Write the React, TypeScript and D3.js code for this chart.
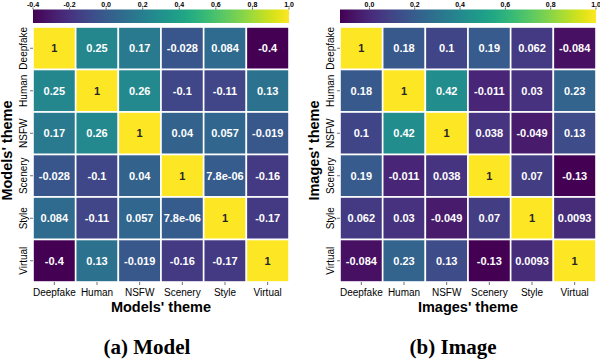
import React from "react";
import * as d3 from "d3";

const categories = ["Deepfake", "Human", "NSFW", "Scenery", "Style", "Virtual"];

const modelValues: number[][] = [
  [1, 0.25, 0.17, -0.028, 0.084, -0.4],
  [0.25, 1, 0.26, -0.1, -0.11, 0.13],
  [0.17, 0.26, 1, 0.04, 0.057, -0.019],
  [-0.028, -0.1, 0.04, 1, 7.8e-6, -0.16],
  [0.084, -0.11, 0.057, 7.8e-6, 1, -0.17],
  [-0.4, 0.13, -0.019, -0.16, -0.17, 1],
];
const modelLabels: string[][] = [
  ["1", "0.25", "0.17", "-0.028", "0.084", "-0.4"],
  ["0.25", "1", "0.26", "-0.1", "-0.11", "0.13"],
  ["0.17", "0.26", "1", "0.04", "0.057", "-0.019"],
  ["-0.028", "-0.1", "0.04", "1", "7.8e-06", "-0.16"],
  ["0.084", "-0.11", "0.057", "7.8e-06", "1", "-0.17"],
  ["-0.4", "0.13", "-0.019", "-0.16", "-0.17", "1"],
];
const modelTicks = [-0.4, -0.2, 0.0, 0.2, 0.4, 0.6, 0.8, 1.0];

const imageValues: number[][] = [
  [1, 0.18, 0.1, 0.19, 0.062, -0.084],
  [0.18, 1, 0.42, -0.011, 0.03, 0.23],
  [0.1, 0.42, 1, 0.038, -0.049, 0.13],
  [0.19, -0.011, 0.038, 1, 0.07, -0.13],
  [0.062, 0.03, -0.049, 0.07, 1, 0.0093],
  [-0.084, 0.23, 0.13, -0.13, 0.0093, 1],
];
const imageLabels: string[][] = [
  ["1", "0.18", "0.1", "0.19", "0.062", "-0.084"],
  ["0.18", "1", "0.42", "-0.011", "0.03", "0.23"],
  ["0.1", "0.42", "1", "0.038", "-0.049", "0.13"],
  ["0.19", "-0.011", "0.038", "1", "0.07", "-0.13"],
  ["0.062", "0.03", "-0.049", "0.07", "1", "0.0093"],
  ["-0.084", "0.23", "0.13", "-0.13", "0.0093", "1"],
];
const imageTicks = [0.0, 0.2, 0.4, 0.6, 0.8, 1.0];

const SANS = "'Liberation Sans', Arial, sans-serif";
const SERIF = "'Liberation Serif', 'DejaVu Serif', serif";

function luminance(c: string) {
  const rgb = d3.rgb(c);
  const f = (v: number) => {
    const s = v / 255;
    return s <= 0.03928 ? s / 12.92 : Math.pow((s + 0.055) / 1.055, 2.4);
  };
  return 0.2126 * f(rgb.r) + 0.7152 * f(rgb.g) + 0.0722 * f(rgb.b);
}

function fmtTick(v: number) {
  return v.toFixed(1);
}

type PanelProps = {
  id: string;
  x0: number;
  values: number[][];
  labels: string[][];
  ticks: number[];
  axisLabel: string;
  caption: string;
  captionX: number;
};

function Panel({ id, x0, values, labels, ticks, axisLabel, caption, captionX }: PanelProps) {
  const width = 256;
  const top = 27;
  const height = 255;
  const flat = values.flat();
  const vmin = d3.min(flat) as number;
  const vmax = d3.max(flat) as number;
  const color = d3.scaleSequential(d3.interpolateViridis).domain([vmin, vmax]);
  const xb = d3.scaleBand().domain(categories).range([x0, x0 + width]);
  const yb = d3.scaleBand().domain(categories).range([top, top + height]);
  const cbScale = d3.scaleLinear().domain([vmin, vmax]).range([x0, x0 + width]);
  const stops = d3.range(0, 1.0001, 0.05);
  const cbTop = 9.5;
  const cbH = 13.5;
  const cx = x0 + width / 2;
  const cy = top + height / 2;
  return (
    <g>
      <defs>
        <linearGradient id={id} x1="0" x2="1" y1="0" y2="0">
          {stops.map((t, i) => (
            <stop key={i} offset={t} stopColor={d3.interpolateViridis(t)} />
          ))}
        </linearGradient>
      </defs>
      <rect x={x0} y={cbTop} width={width} height={cbH} fill={`url(#${id})`} />
      {ticks.map((t) => (
        <g key={t}>
          <line x1={cbScale(t)} x2={cbScale(t)} y1={cbTop} y2={cbTop - 2} stroke="#000" strokeWidth={0.6} />
          <text x={cbScale(t)} y={6.5} fontSize={7} fontFamily={SANS} fontWeight="bold" textAnchor="middle">
            {fmtTick(t)}
          </text>
        </g>
      ))}
      {values.map((row, i) =>
        row.map((v, j) => {
          const fill = color(v);
          const txt = luminance(fill) > 0.408 ? "#262626" : "#ffffff";
          return (
            <g key={`${i}-${j}`}>
              <rect
                x={xb(categories[j])}
                y={yb(categories[i])}
                width={xb.bandwidth()}
                height={yb.bandwidth()}
                fill={fill}
                stroke="#fff"
                strokeWidth={1.6}
              />
              <text
                x={(xb(categories[j]) as number) + xb.bandwidth() / 2}
                y={(yb(categories[i]) as number) + yb.bandwidth() / 2}
                dy="0.35em"
                fontSize={11}
                fontWeight="bold"
                fontFamily={SANS}
                fill={txt}
                textAnchor="middle"
              >
                {labels[i][j]}
              </text>
            </g>
          );
        })
      )}
      {categories.map((c) => {
        const xc = (xb(c) as number) + xb.bandwidth() / 2;
        const yc = (yb(c) as number) + yb.bandwidth() / 2;
        return (
          <g key={c}>
            <line x1={xc} x2={xc} y1={top + height} y2={top + height + 3} stroke="#333" strokeWidth={0.7} />
            <text x={xc} y={top + height + 14} fontSize={10} fontFamily={SANS} textAnchor="middle">
              {c}
            </text>
            <line x1={x0} x2={x0 - 3} y1={yc} y2={yc} stroke="#333" strokeWidth={0.7} />
            <text
              transform={`translate(${x0 - 6},${yc}) rotate(-90)`}
              fontSize={10}
              fontFamily={SANS}
              textAnchor="middle"
            >
              {c}
            </text>
          </g>
        );
      })}
      <text x={cx} y={312} fontSize={14.5} fontWeight="bold" fontFamily={SANS} textAnchor="middle">
        {axisLabel}
      </text>
      <text
        transform={`translate(${x0 - 21},${cy - 4}) rotate(-90)`}
        fontSize={14.5}
        fontWeight="bold"
        fontFamily={SANS}
        textAnchor="middle"
      >
        {axisLabel}
      </text>
      <text x={captionX} y={354} fontSize={21} fontWeight="bold" fontFamily={SERIF} textAnchor="middle">
        {caption}
      </text>
    </g>
  );
}

export default function App() {
  return (
    <svg width={600} height={360} style={{ position: "absolute", left: 0, top: 0, background: "#fff" }}>
      <rect width={600} height={360} fill="#fff" />
      <Panel
        id="gradA"
        x0={33}
        values={modelValues}
        labels={modelLabels}
        ticks={modelTicks}
        axisLabel="Models' theme"
        caption="(a) Model"
        captionX={147}
      />
      <Panel
        id="gradB"
        x0={340}
        values={imageValues}
        labels={imageLabels}
        ticks={imageTicks}
        axisLabel="Images' theme"
        caption="(b) Image"
        captionX={453}
      />
    </svg>
  );
}
